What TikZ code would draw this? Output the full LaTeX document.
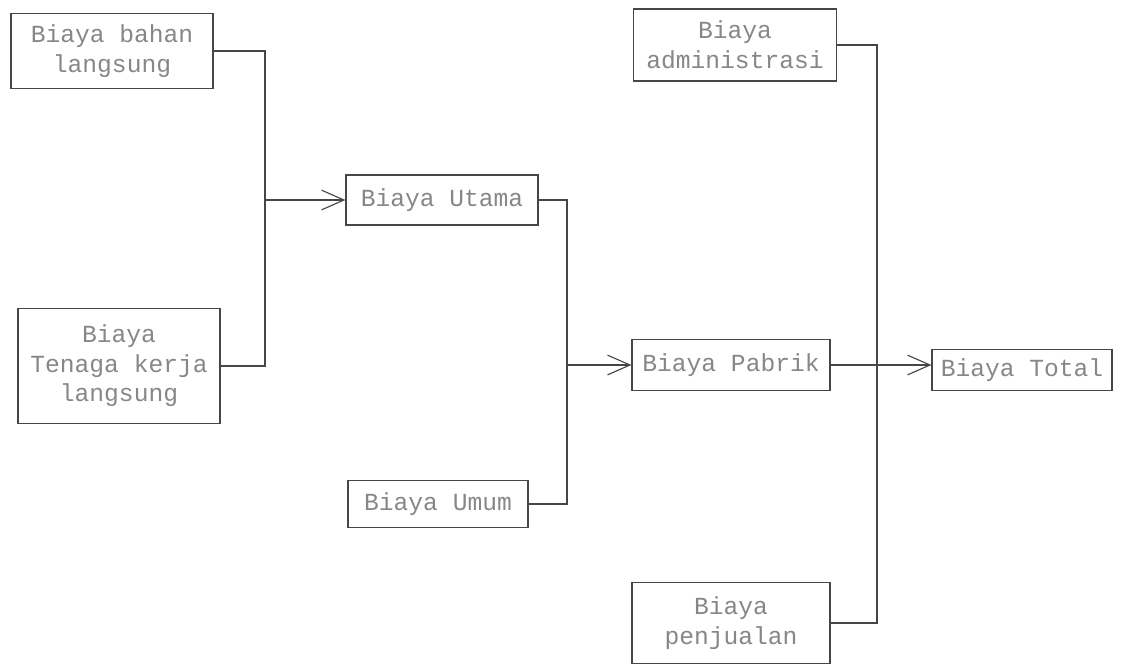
\documentclass[tikz,border=0pt]{standalone}
\usepackage{fontspec}
\setmonofont{Liberation Mono}
\usepackage{tikz}
\usetikzlibrary{positioning,arrows.meta}
\definecolor{inkline}{RGB}{70,70,70}
\definecolor{inktext}{RGB}{135,135,135}

\begin{document}
\begin{tikzpicture}[
  x={(0.025cm,0)}, y={(0,-0.025cm)},
  biaya/.style={draw=inkline, line width=0.8pt, align=center, inner sep=0pt, text=inktext, font=\ttfamily\fontsize{17.5}{21}\selectfont},
  arrow/.style={-{Straight Barb[length=16pt,width=14pt,line width=0.8pt]}, line width=0.8pt, color=inkline},
  link/.style={line width=0.8pt, color=inkline}
]
\useasboundingbox (0,0) rectangle (1131,666);
\node[biaya,minimum width=202*0.025cm,minimum height=75*0.025cm] (bahan) at (112,51) {Biaya bahan\\langsung};
\node[biaya,minimum width=202*0.025cm,minimum height=115*0.025cm] (tenaga) at (119,366) {Biaya\\Tenaga kerja\\langsung};
\node[biaya,minimum width=192*0.025cm,minimum height=50*0.025cm] (utama) at (442,200) {Biaya Utama};
\node[biaya,minimum width=180*0.025cm,minimum height=47*0.025cm] (umum) at (438,504) {Biaya Umum};
\node[biaya,minimum width=198*0.025cm,minimum height=51*0.025cm] (pabrik) at (731,365) {Biaya Pabrik};
\node[biaya,minimum width=180*0.025cm,minimum height=41*0.025cm] (total) at (1022,370) {Biaya Total};
\node[biaya,minimum width=203*0.025cm,minimum height=72*0.025cm] (admin) at (735,45) {Biaya\\administrasi};
\node[biaya,minimum width=198*0.025cm,minimum height=81*0.025cm] (jual) at (731,623) {Biaya\\penjualan};
\coordinate (jl) at (265,200);
\coordinate (jr) at (567,365);
\coordinate (jk) at (877,45);
% kiri ke biaya utama
\draw[link] (bahan.east) -| (jl);
\draw[link] (tenaga.east) -| (jl);
\draw[arrow] (jl) -- (utama.west);
% biaya utama + umum
\draw[link] (utama.east) -| (jr);
\draw[link] (umum.east) -| (jr);
\draw[arrow] (jr) -- (pabrik.west);
\draw[arrow] (pabrik.east) -- (pabrik.east -| total.west);
% administrasi dan penjualan
\draw[link] (admin.east) -- (jk) |- (jual.east);
\end{tikzpicture}
\end{document}
